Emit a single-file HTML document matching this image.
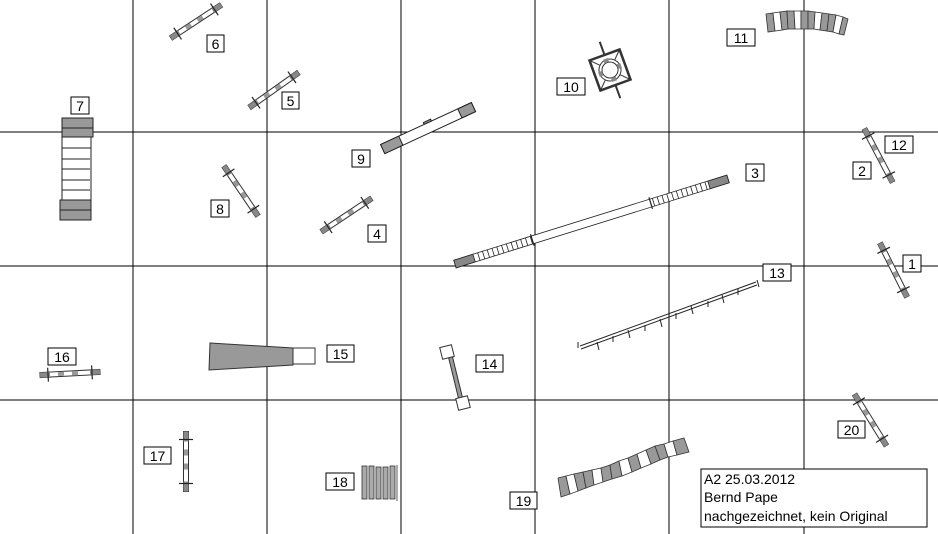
<!DOCTYPE html>
<html><head><meta charset="utf-8"><style>
html,body{margin:0;padding:0;background:#fff;}
svg{display:block;}
text{font-family:"Liberation Sans",sans-serif;font-size:14px;fill:#000;}
</style></head><body>
<svg width="938" height="534" viewBox="0 0 938 534" xmlns="http://www.w3.org/2000/svg">
<defs>
<g id="f60">
  <rect x="-30" y="-2.5" width="60" height="5" fill="#fff" stroke="#333" stroke-width="1"/>
  <rect x="-30" y="-2.5" width="10" height="5" fill="#888"/>
  <rect x="20" y="-2.5" width="10" height="5" fill="#888"/>
  <rect x="-12" y="-2" width="6" height="4" fill="#999"/>
  <rect x="2" y="-2" width="6" height="4" fill="#999"/>
  <line x1="-22" y1="-7" x2="-22" y2="7" stroke="#222" stroke-width="1.2"/>
  <line x1="22" y1="-7" x2="22" y2="7" stroke="#222" stroke-width="1.2"/>
</g>
</defs>
<g stroke="#000" stroke-width="1">
<line x1="133" y1="0" x2="133" y2="534"/><line x1="267" y1="0" x2="267" y2="534"/>
<line x1="401" y1="0" x2="401" y2="534"/><line x1="535" y1="0" x2="535" y2="534"/>
<line x1="669" y1="0" x2="669" y2="534"/><line x1="804" y1="0" x2="804" y2="534"/>
<line x1="0" y1="132" x2="938" y2="132"/><line x1="0" y1="266" x2="938" y2="266"/>
<line x1="0" y1="400" x2="938" y2="400"/>
</g>

<use href="#f60" transform="translate(196,21.5) rotate(-33.4)"/>
<use href="#f60" transform="translate(274,90) rotate(-35.3)"/>
<use href="#f60" transform="translate(241,191) rotate(55.8)"/>
<use href="#f60" transform="translate(346.5,215) rotate(-33.7)"/>
<use href="#f60" transform="translate(878.5,155.5) rotate(62.2)"/>
<use href="#f60" transform="translate(893.5,270) rotate(63.4)"/>
<use href="#f60" transform="translate(870.5,420) rotate(58.2)"/>
<use href="#f60" transform="translate(70,373.5) rotate(-3)"/>
<use href="#f60" transform="translate(186,461.5) rotate(90)"/>

<!-- 7 column -->
<g stroke="#222" stroke-width="1">
<rect x="62" y="118" width="31" height="19" fill="#999"/>
<rect x="62" y="137" width="29" height="63" fill="#fff"/>
<rect x="60" y="200" width="31" height="20" fill="#999"/>
<line x1="62" y1="128" x2="93" y2="128"/><line x1="60" y1="210" x2="91" y2="210"/>
<line x1="62" y1="148" x2="91" y2="148"/><line x1="62" y1="159" x2="90" y2="159"/>
<line x1="62" y1="169" x2="90" y2="169"/><line x1="62" y1="180" x2="90" y2="180"/>
<line x1="62" y1="190" x2="90" y2="190"/>
</g>

<!-- 9 bar -->
<g transform="translate(428.5,129) rotate(-24.8)" stroke="#222">
<rect x="-50" y="-6" width="100" height="10" fill="#fff"/>
<rect x="-50" y="-6" width="20" height="10" fill="#999"/>
<rect x="35" y="-6" width="15" height="10" fill="#999"/>
<rect x="-2" y="-8" width="8" height="2" fill="#999"/>
</g>

<!-- 3 long bar -->
<g transform="translate(591.5,221.5) rotate(-17.3)" stroke="#222" stroke-width="0.8">
<rect x="-143" y="-4" width="286" height="8" fill="#fff"/>
<rect x="-143" y="-4" width="20" height="8" fill="#888"/>
<rect x="123" y="-4" width="20" height="8" fill="#888"/>
<path d="M-118,-4v8M-113,-4v8M-108,-4v8M-103,-4v8M-98,-4v8M-93,-4v8M-88,-4v8M-83,-4v8M-78,-4v8M-73,-4v8M-68,-4v8M-63,-4v8M65,-4v8M70,-4v8M75,-4v8M80,-4v8M85,-4v8M90,-4v8M95,-4v8M100,-4v8M105,-4v8M110,-4v8M115,-4v8M120,-4v8"/>
<path d="M-62,-6v12M62,-6v12" stroke-width="1.2"/>
</g>

<!-- 10 -->
<g transform="translate(610,70) rotate(-20)" stroke="#333">
<line x1="0" y1="-30" x2="0" y2="30" stroke-width="2"/>
<rect x="-16" y="-16" width="32" height="32" fill="#fff" stroke-width="2.5"/>
<circle r="11" fill="#fff" stroke-width="1"/><circle r="8" fill="#fff" stroke-width="1"/>
<path d="M-16,-16L-8,-8M16,-16L8,-8M-16,16L-8,8M16,16L8,8" stroke-width="1"/>
<rect x="-3" y="-12" width="5" height="4" fill="#888" stroke="none"/>
<rect x="8" y="-3" width="4" height="5" fill="#888" stroke="none"/>
<rect x="-12" y="-2" width="4" height="5" fill="#888" stroke="none"/>
<rect x="-2" y="8" width="5" height="4" fill="#888" stroke="none"/>
</g>

<!-- 11 arc blocks -->
<g stroke="#333" stroke-width="0.8">
<path d="M766,14 L773,13 L775,31 L768,32Z" fill="#999"/>
<path d="M773,13 L780,12 L782,30 L775,31Z" fill="#fff"/>
<path d="M780,12 L787,11 L788,29 L782,30Z" fill="#999"/>
<path d="M787,11 L794,11 L795,29 L788,29Z" fill="#999"/>
<path d="M794,11 L801,11 L801,29 L795,29Z" fill="#fff"/>
<path d="M801,11 L808,11 L808,29 L801,29Z" fill="#999"/>
<path d="M808,11 L815,12 L814,29 L808,29Z" fill="#999"/>
<path d="M815,12 L822,13 L820,30 L814,29Z" fill="#fff"/>
<path d="M822,13 L829,14 L827,31 L820,30Z" fill="#999"/>
<path d="M829,14 L836,15 L833,32 L827,31Z" fill="#999"/>
<path d="M836,15 L843,17 L839,34 L833,32Z" fill="#fff"/>
<path d="M843,17 L848,19 L844,35 L839,34Z" fill="#999"/>
</g>

<!-- 13 -->
<g stroke="#222" stroke-width="1" fill="none">
<path d="M580,346 L756,282 M581,349 L757,285"/>
<path d="M578,342v6M757,280l2,7M597,342l2,8M613,336v6M628,330l2,8M645,325v6M660,319l2,8M676,313v6M691,306l2,8M708,301v6M722,295l2,8M738,289v6"/>
</g>

<!-- 15 -->
<polygon points="210,343 293,348 293,365 209,370" fill="#999" stroke="#333"/>
<rect x="293" y="348" width="22" height="16" fill="#fff" stroke="#333"/>

<!-- 14 -->
<g stroke="#333">
<line x1="450" y1="355" x2="461" y2="400" stroke-width="5"/>
<line x1="450" y1="355" x2="461" y2="400" stroke="#999" stroke-width="3"/>
<rect x="-6" y="-6" width="12" height="12" fill="#fff" transform="translate(447,352) rotate(-14)"/>
<rect x="-6" y="-6" width="12" height="12" fill="#fff" transform="translate(463,403) rotate(-14)"/>
</g>

<!-- 18 -->
<g stroke="#333" stroke-width="0.8">
<rect x="362" y="466" width="5" height="33" fill="#aaa"/>
<rect x="369" y="466" width="5" height="33" fill="#aaa"/>
<rect x="376" y="467" width="5" height="32" fill="#aaa"/>
<rect x="383" y="467" width="5" height="32" fill="#aaa"/>
<rect x="390" y="466" width="5" height="33" fill="#aaa"/>
<line x1="397" y1="465" x2="397" y2="501"/>
</g>

<!-- 19 arc -->
<g stroke="#333" stroke-width="0.8">
<path d="M558,478 L566,476 L570,494 L561,497Z" fill="#999"/>
<path d="M566,476 L574,474 L578,491 L570,494Z" fill="#fff"/>
<path d="M574,474 L583,472 L586,488 L578,491Z" fill="#999"/>
<path d="M583,472 L592,470 L594,485 L586,488Z" fill="#999"/>
<path d="M592,470 L601,468 L603,482 L594,485Z" fill="#fff"/>
<path d="M601,468 L610,465 L612,479 L603,482Z" fill="#999"/>
<path d="M610,465 L619,461 L622,476 L612,479Z" fill="#999"/>
<path d="M619,461 L628,458 L632,472 L622,476Z" fill="#fff"/>
<path d="M628,458 L637,454 L641,468 L632,472Z" fill="#999"/>
<path d="M637,454 L646,450 L651,464 L641,468Z" fill="#fff"/>
<path d="M646,450 L655,446 L660,460 L651,464Z" fill="#999"/>
<path d="M655,446 L664,444 L668,457 L660,460Z" fill="#999"/>
<path d="M664,444 L673,441 L677,455 L668,457Z" fill="#fff"/>
<path d="M673,441 L684,438 L689,452 L677,455Z" fill="#999"/>
</g>

<!-- labels -->
<g fill="#fff" stroke="#000" stroke-width="1">
<rect x="207" y="35" width="17" height="17"/><rect x="282" y="92" width="17" height="17"/>
<rect x="71" y="97" width="18" height="17"/><rect x="352" y="150" width="18" height="17"/>
<rect x="211" y="200" width="18" height="17"/><rect x="368" y="225" width="18" height="17"/>
<rect x="557" y="78" width="28" height="17"/><rect x="727" y="29" width="28" height="17"/>
<rect x="746" y="164" width="18" height="17"/><rect x="885" y="136" width="28" height="17"/>
<rect x="853" y="162" width="18" height="17"/><rect x="903" y="255" width="18" height="17"/>
<rect x="763" y="264" width="28" height="17"/><rect x="48" y="348" width="28" height="17"/>
<rect x="327" y="345" width="27" height="17"/><rect x="476" y="355" width="27" height="17"/>
<rect x="144" y="447" width="27" height="17"/><rect x="326" y="473" width="28" height="17"/>
<rect x="510" y="492" width="27" height="17"/><rect x="838" y="421" width="27" height="17"/>
<rect x="701" y="469" width="226" height="58"/>
</g>
<g text-anchor="middle">
<text x="215.5" y="49">6</text><text x="290.5" y="106">5</text><text x="80" y="111">7</text>
<text x="361" y="164">9</text><text x="220" y="214">8</text><text x="377" y="239">4</text>
<text x="571" y="92">10</text><text x="741" y="43">11</text><text x="755" y="178">3</text>
<text x="899" y="150">12</text><text x="862" y="176">2</text><text x="912" y="269">1</text>
<text x="777" y="278">13</text><text x="62" y="362">16</text><text x="340.5" y="359">15</text>
<text x="489.5" y="369">14</text><text x="157.5" y="461">17</text><text x="340" y="487">18</text>
<text x="523.5" y="506">19</text><text x="851.5" y="435">20</text>
</g>
<text x="704" y="484">A2 25.03.2012</text>
<text x="704" y="502">Bernd Pape</text>
<text x="704" y="521">nachgezeichnet, kein Original</text>
</svg>
</body></html>
